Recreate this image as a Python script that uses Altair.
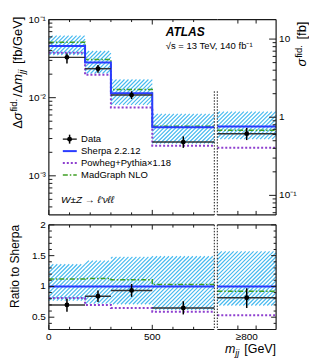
import math
import altair as alt
import pandas as pd

# ---------------- data ----------------
bin_lo = [0, 175, 300, 500]
bin_hi = [175, 300, 500, 800]

# upper panel, d sigma / d m_jj  [fb/GeV]
data_val = [0.0328, 0.0235, 0.0108, 0.00270]
data_dn = [0.0274, 0.0208, 0.0096, 0.00228]
data_up = [0.0368, 0.0262, 0.0121, 0.00320]
sherpa_val = [0.0457, 0.0283, 0.0114, 0.00417]
sherpa_band_dn = [0.0352, 0.0204, 0.0081, 0.00259]
sherpa_band_up = [0.0622, 0.0396, 0.0171, 0.00621]
powheg_val = [0.0377, 0.0196, 0.0075, 0.00243]
madgraph_val = [0.0514, 0.0309, 0.0127, 0.00430]

# overflow bin (m_jj >= 800 GeV), sigma [fb] on the right axis
ovf_lo = [0.0]
ovf_hi = [1.0]
ovf_data_val = [0.616]
ovf_data_dn = [0.51]
ovf_data_up = [0.73]
ovf_sherpa_val = [0.76]
ovf_band_dn = [0.524]
ovf_band_up = [1.18]
ovf_powheg_val = [0.408]
ovf_madgraph_val = [0.68]

# ratio panel
ratio_data = [0.70, 0.84, 0.935, 0.65]
ratio_data_dn = [0.59, 0.745, 0.83, 0.545]
ratio_data_up = [0.80, 0.935, 1.04, 0.76]
ratio_band_dn = [0.77, 0.72, 0.71, 0.62]
ratio_band_up = [1.36, 1.42, 1.48, 1.49]
ratio_sherpa = [1.0, 1.0, 1.0, 1.0]
ratio_powheg = [0.81, 0.70, 0.65, 0.59]
ratio_madgraph = [1.12, 1.13, 1.11, 1.03]
ovf_ratio_data = [0.815]
ovf_ratio_dn = [0.65]
ovf_ratio_up = [0.97]
ovf_ratio_band_dn = [0.69]
ovf_ratio_band_up = [1.57]
ovf_ratio_sherpa = [1.0]
ovf_ratio_powheg = [0.53]
ovf_ratio_madgraph = [0.92]

# ticks and tick labels
x_major = [0, 500]
x_major_labels = ["0", "500"]
x_minor = [100, 200, 300, 400, 600, 700]
ovf_x_ticks = [0.35, 0.66]
ovf_x_label_pos = [0.5]
ovf_x_labels = ["≥800"]
top_major = [1e-3, 1e-2, 1e-1]
top_major_labels = ["10⁻³", "10⁻²", "10⁻¹"]
top_minor = [k * 10.0 ** e for e in (-4, -3, -2) for k in range(2, 10) if k * 10.0 ** e > 10 ** -3.5]
right_major = [0.1, 1.0, 10.0]
right_major_labels = ["10⁻¹", "1", "10"]
right_minor = [k * 10.0 ** e for e in (-2, -1, 0, 1) for k in range(2, 10)
               if 10 ** -1.25 < k * 10.0 ** e < 10 ** 1.25]
ratio_major = [0.5, 1.0, 1.5, 2.0]
ratio_major_labels = ["0.5", "1", "1.5", "2"]
ratio_minor = [0.3, 0.4, 0.6, 0.7, 0.8, 0.9, 1.1, 1.2, 1.3, 1.4, 1.6, 1.7, 1.8, 1.9]

# ---------------- style ----------------
FONT = "Liberation Sans"
BLUE = "#2a3cff"
PURPLE = "#8e3fcf"
GREEN = "#3f9f24"
HATCH = "#45b9ef"
HATCH_WIDTH = 1.15
HATCH_PERIOD = 4.0
INK = "#1a1a1a"
DATA_LINE = "#333333"
LABEL_SIZE = 10

WL, WR, HT, HB = 166, 59, 196, 105
GAP = 3
DOT_TOP = 72  # where the dotted break line starts in the upper panel
TOP_LOG = (-3.5, -1.0)
RIGHT_LOG = (-1.25, 1.25)
R_DOM = (0.3, 2.0)
tspan = TOP_LOG[1] - TOP_LOG[0]
rspan = RIGHT_LOG[1] - RIGHT_LOG[0]
bspan = R_DOM[1] - R_DOM[0]

xL = alt.Scale(domain=[0, 800], nice=False, zero=False)
xR = alt.Scale(domain=[0, 1], nice=False, zero=False)
yT = alt.Scale(type="log", domain=[10 ** TOP_LOG[0], 10 ** TOP_LOG[1]], nice=False)
yTR = alt.Scale(type="log", domain=[10 ** RIGHT_LOG[0], 10 ** RIGHT_LOG[1]], nice=False)
yB = alt.Scale(domain=list(R_DOM), nice=False, zero=False)

ONE = pd.DataFrame({"k": [0]})

# approximate advance widths (em) of Liberation Sans, for composing sub/superscripts
W_EM = {"Δ": 0.668, "σ": 0.58, "f": 0.278, "i": 0.222, "d": 0.556, ".": 0.278, "/": 0.278,
        "m": 0.833, "j": 0.222, "[": 0.278, "]": 0.278, "b": 0.556, "G": 0.778, "e": 0.556,
        "V": 0.667}


def tw(s, size):
    return sum(W_EM.get(c, 0.556) for c in s) * size


def ex(field, scale):
    return alt.X(f"{field}:Q", scale=scale, axis=None)


def ey(field, scale):
    return alt.Y(f"{field}:Q", scale=scale, axis=None)


# --- hatch of the uncertainty band: 45 degree lines clipped to each band box ---
def to_px_log(v, top, span, H):
    return (top - math.log10(v)) * H / span


def hatch_layer(lo, hi, dn, up, xs, ys, px_x, px_y, data_x, data_y, xoff):
    rows = []
    for a, b, d, u in zip(lo, hi, dn, up):
        x0, x1 = px_x(a), px_x(b)
        y0, y1 = px_y(u), px_y(d)
        w, h = x1 - x0, y1 - y0
        c = (-(x0 + xoff + y0)) % HATCH_PERIOD
        while c < w + h:
            xa, xb = max(0.0, c - h), min(w, c)
            if xb > xa:
                rows.append({"x": data_x(x0 + xa), "y": data_y(y0 + c - xa),
                             "x2": data_x(x0 + xb), "y2": data_y(y0 + c - xb)})
            c += HATCH_PERIOD
    return alt.Chart(pd.DataFrame(rows)).mark_rule(color=HATCH, strokeWidth=HATCH_WIDTH).encode(
        x=ex("x", xs), y=ey("y", ys), x2=alt.X2("x2"), y2=alt.Y2("y2"))


def rule(enc, dotted=False):
    if dotted:
        return alt.Chart(ONE).mark_rule(color=INK, strokeWidth=1, strokeDash=[1.5, 1.5]).encode(**enc)
    return alt.Chart(ONE).mark_rule(color=INK, strokeWidth=1.2).encode(**enc)


def ylabels(vals, labels, scale, x, align):
    df = pd.DataFrame({"v": vals, "t": labels})
    return alt.Chart(df).mark_text(font=FONT, fontSize=LABEL_SIZE, color="#000000", align=align,
                                   baseline="middle").encode(y=ey("v", scale), x=alt.value(x), text="t:N")


def xlabels(vals, labels, scale, y):
    df = pd.DataFrame({"v": vals, "t": labels})
    return alt.Chart(df).mark_text(font=FONT, fontSize=LABEL_SIZE, color="#000000", align="center",
                                   baseline="top").encode(x=ex("v", scale), y=alt.value(y), text="t:N")


def part_text(text, size, italic, x, y, align, angle=0):
    kw = dict(text=text, font=FONT, fontSize=size, color="#000000", align=align, baseline="alphabetic")
    if italic:
        kw["fontStyle"] = "italic"
    if angle:
        kw["angle"] = angle
    return alt.Chart(ONE).mark_text(**kw).encode(x=alt.value(x), y=alt.value(y))


def rot_title(parts, x, y_top):
    """Rotated (reading upwards) title whose end sits at y_top. parts: (text, size, italic, rise, gap_after)"""
    out, cursor = [], y_top
    for text, size, italic, rise, gap in reversed(parts):
        cursor += gap
        out.append(part_text(text, size, italic, x - rise, cursor, "right", angle=270))
        cursor += tw(text, size)
    return out


def h_title(parts, x_right, y):
    total = sum(tw(t, s) + g for t, s, _, _, g in parts)
    out, cursor = [], x_right - total
    for text, size, italic, rise, gap in parts:
        out.append(part_text(text, size, italic, cursor, y - rise, "left"))
        cursor += tw(text, size) + gap
    return out


def yticks(vals, scale, side, W, L):
    df = pd.DataFrame({"v": vals})
    if side == "left":
        enc = dict(x=alt.value(0), x2=alt.value(L))
    else:
        enc = dict(x=alt.value(W), x2=alt.value(W - L))
    return alt.Chart(df).mark_rule(color=INK, strokeWidth=1).encode(y=ey("v", scale), **enc)


def xticks(vals, scale, H, L):
    df = pd.DataFrame({"v": vals})
    return [
        alt.Chart(df).mark_rule(color=INK, strokeWidth=1).encode(
            x=ex("v", scale), y=alt.value(H), y2=alt.value(H - L)),
        alt.Chart(df).mark_rule(color=INK, strokeWidth=1).encode(
            x=ex("v", scale), y=alt.value(0), y2=alt.value(L)),
    ]


def step_layer(vals, xs, ys, color, width, dash=None):
    df = pd.DataFrame({"x": bin_lo + [bin_hi[-1]], "y": list(vals) + [vals[-1]]})
    kw = dict(interpolate="step-after", color=color, strokeWidth=width)
    if dash:
        kw["strokeDash"] = dash
    return alt.Chart(df).mark_line(**kw).encode(x=ex("x", xs), y=ey("y", ys))


def hline_layer(df, field, xs, ys, color, width, dash=None):
    kw = dict(color=color, strokeWidth=width)
    if dash:
        kw["strokeDash"] = dash
    return alt.Chart(df).mark_rule(**kw).encode(x=ex("lo", xs), x2=alt.X2("hi"), y=ey(field, ys))


def data_layers(df, xs, ys):
    return [
        alt.Chart(df).mark_rule(color=DATA_LINE, strokeWidth=1.5).encode(
            x=ex("lo", xs), x2=alt.X2("hi"), y=ey("val", ys)),
        alt.Chart(df).mark_rule(color="#000000", strokeWidth=1.5).encode(
            x=ex("c", xs), y=ey("dn", ys), y2=alt.Y2("up")),
        alt.Chart(df).mark_circle(color="#000000", size=24, opacity=1).encode(
            x=ex("c", xs), y=ey("val", ys)),
    ]


# pixel <-> data helpers of each panel (follow the scales above)
pxL = lambda v: v * WL / 800
datL = lambda p: p * 800 / WL
pxR = lambda v: v * WR
datR = lambda p: p / WR
pyT = lambda v: to_px_log(v, TOP_LOG[1], tspan, HT)
dyT = lambda p: 10 ** (TOP_LOG[1] - p * tspan / HT)
pyTR = lambda v: to_px_log(v, RIGHT_LOG[1], rspan, HT)
dyTR = lambda p: 10 ** (RIGHT_LOG[1] - p * rspan / HT)
pyB = lambda v: (R_DOM[1] - v) * HB / bspan
dyB = lambda p: R_DOM[1] - p * bspan / HB

# ---------------- upper left ----------------
top_df = pd.DataFrame({
    "lo": bin_lo, "hi": bin_hi,
    "c": [(a + b) / 2 for a, b in zip(bin_lo, bin_hi)],
    "val": data_val, "dn": data_dn, "up": data_up,
})
tl = [hatch_layer(bin_lo, bin_hi, sherpa_band_dn, sherpa_band_up, xL, yT, pxL, pyT, datL, dyT, 0)]
tl.append(step_layer(madgraph_val, xL, yT, GREEN, 1.5, [5, 2, 1.5, 2]))
tl.append(step_layer(powheg_val, xL, yT, PURPLE, 2, [2, 2]))
tl.append(step_layer(sherpa_val, xL, yT, BLUE, 2))
tl += data_layers(top_df, xL, yT)
tl.append(yticks(top_major, yT, "left", WL, 7))
tl.append(yticks(top_minor, yT, "left", WL, 3.5))
tl += xticks(x_major, xL, HT, 5)
tl += xticks(x_minor, xL, HT, 2.5)
tl.append(rule(dict(x=alt.value(0), y=alt.value(0), y2=alt.value(HT))))
tl.append(rule(dict(y=alt.value(0), x=alt.value(0), x2=alt.value(WL + GAP))))
tl.append(rule(dict(y=alt.value(HT), x=alt.value(0), x2=alt.value(WL))))
tl.append(rule(dict(x=alt.value(WL), y=alt.value(DOT_TOP), y2=alt.value(HT)), dotted=True))
tl.append(ylabels(top_major, top_major_labels, yT, -3, "right"))
tl += rot_title([("Δ", 13, False, 0, 0), ("σ", 13, True, 0, 1), ("fid.", 9.5, False, 4.5, 2),
                 ("/Δ", 13, False, 0, 0), ("m", 13, True, 0, 0), ("jj", 9.5, True, -3, 2 + 3.6),
                 ("[fb/GeV]", 13, False, 0, 0)], -27, -3)
# annotations and legend
txt = dict(font=FONT, color="#000000", align="left")
tl.append(alt.Chart(ONE).mark_text(text="ATLAS", fontSize=12, fontStyle="italic", fontWeight="bold",
                                   baseline="alphabetic", **txt).encode(x=alt.value(117.3), y=alt.value(16.7)))
tl.append(alt.Chart(ONE).mark_text(text="√s = 13 TeV, 140 fb⁻¹", fontSize=9.5, baseline="alphabetic",
                                   **txt).encode(x=alt.value(117.3), y=alt.value(30)))
tl.append(alt.Chart(ONE).mark_text(text="W±Z → ℓ′νℓℓ", fontSize=10, fontStyle="italic", baseline="middle",
                                   **txt).encode(x=alt.value(12.3), y=alt.value(181)))
leg_rows = [("Data", 120), ("Sherpa 2.2.12", 132), ("Powheg+Pythia×1.18", 144), ("MadGraph NLO", 156)]
for label, yy in leg_rows:
    tl.append(alt.Chart(ONE).mark_text(text=label, fontSize=9.5, baseline="middle", **txt).encode(
        x=alt.value(32.3), y=alt.value(yy)))
tl.append(alt.Chart(ONE).mark_rule(color=DATA_LINE, strokeWidth=1.5).encode(
    x=alt.value(14), x2=alt.value(28), y=alt.value(120)))
tl.append(alt.Chart(ONE).mark_rule(color="#000000", strokeWidth=1.5).encode(
    x=alt.value(20.8), y=alt.value(115.5), y2=alt.value(124.5)))
tl.append(alt.Chart(ONE).mark_circle(color="#000000", size=24, opacity=1).encode(
    x=alt.value(20.8), y=alt.value(120)))
tl.append(alt.Chart(ONE).mark_rule(color=BLUE, strokeWidth=2).encode(
    x=alt.value(14), x2=alt.value(28), y=alt.value(132)))
tl.append(alt.Chart(ONE).mark_rule(color=PURPLE, strokeWidth=2, strokeDash=[2, 2]).encode(
    x=alt.value(14), x2=alt.value(28), y=alt.value(144)))
tl.append(alt.Chart(ONE).mark_rule(color=GREEN, strokeWidth=1.5, strokeDash=[5, 2, 1.5, 2]).encode(
    x=alt.value(14), x2=alt.value(28), y=alt.value(156)))
TL = alt.layer(*tl).properties(width=WL, height=HT)

# ---------------- upper right (overflow) ----------------
ovf_df = pd.DataFrame({
    "lo": ovf_lo, "hi": ovf_hi, "c": [(a + b) / 2 for a, b in zip(ovf_lo, ovf_hi)],
    "val": ovf_data_val, "dn": ovf_data_dn, "up": ovf_data_up,
    "sherpa": ovf_sherpa_val, "powheg": ovf_powheg_val, "madgraph": ovf_madgraph_val,
})
tr = [hatch_layer(ovf_lo, ovf_hi, ovf_band_dn, ovf_band_up, xR, yTR, pxR, pyTR, datR, dyTR, WL + GAP)]
tr.append(hline_layer(ovf_df, "madgraph", xR, yTR, GREEN, 1.5, [5, 2, 1.5, 2]))
tr.append(hline_layer(ovf_df, "powheg", xR, yTR, PURPLE, 2, [2, 2]))
tr.append(hline_layer(ovf_df, "sherpa", xR, yTR, BLUE, 2))
tr += data_layers(ovf_df, xR, yTR)
tr.append(yticks(right_major, yTR, "right", WR, 7))
tr.append(yticks(right_minor, yTR, "right", WR, 3.5))
tr += xticks(ovf_x_ticks, xR, HT, 4)
tr.append(rule(dict(x=alt.value(WR), y=alt.value(0), y2=alt.value(HT))))
tr.append(rule(dict(y=alt.value(0), x=alt.value(0), x2=alt.value(WR))))
tr.append(rule(dict(y=alt.value(HT), x=alt.value(0), x2=alt.value(WR))))
tr.append(rule(dict(x=alt.value(0), y=alt.value(DOT_TOP), y2=alt.value(HT)), dotted=True))
tr.append(ylabels(right_major, right_major_labels, yTR, WR + 3, "left"))
tr += rot_title([("σ", 13, True, 0, 1), ("fid.", 9.5, False, 4.5, 2 + 3.6), ("[fb]", 13, False, 0, 0)],
                WR + 30, 2)
TR = alt.layer(*tr).properties(width=WR, height=HT)

# ---------------- lower left (ratio) ----------------
rat_df = pd.DataFrame({
    "lo": bin_lo, "hi": bin_hi,
    "c": [(a + b) / 2 for a, b in zip(bin_lo, bin_hi)],
    "val": ratio_data, "dn": ratio_data_dn, "up": ratio_data_up,
})
bl = [hatch_layer(bin_lo, bin_hi, ratio_band_dn, ratio_band_up, xL, yB, pxL, pyB, datL, dyB, 0)]
bl.append(step_layer(ratio_madgraph, xL, yB, GREEN, 1.5, [5, 2, 1.5, 2]))
bl.append(step_layer(ratio_powheg, xL, yB, PURPLE, 2, [2, 2]))
bl.append(step_layer(ratio_sherpa, xL, yB, BLUE, 2))
bl += data_layers(rat_df, xL, yB)
bl.append(yticks(ratio_major, yB, "left", WL, 5.5))
bl.append(yticks(ratio_minor, yB, "left", WL, 3))
bl += xticks(x_major, xL, HB, 4.7)
bl += xticks(x_minor, xL, HB, 2.7)
bl.append(rule(dict(x=alt.value(0), y=alt.value(0), y2=alt.value(HB))))
bl.append(rule(dict(y=alt.value(0), x=alt.value(0), x2=alt.value(WL))))
bl.append(rule(dict(y=alt.value(HB), x=alt.value(0), x2=alt.value(WL))))
bl.append(rule(dict(x=alt.value(WL), y=alt.value(0), y2=alt.value(HB)), dotted=True))
bl.append(ylabels(ratio_major, ratio_major_labels, yB, -3, "right"))
bl.append(xlabels(x_major, x_major_labels, xL, HB + 3))
bl.append(part_text("Ratio to Sherpa", 12, False, -30.2, 0, "right", angle=270))
BL = alt.layer(*bl).properties(width=WL, height=HB)

# ---------------- lower right (ratio overflow) ----------------
ovr_df = pd.DataFrame({
    "lo": ovf_lo, "hi": ovf_hi, "c": [(a + b) / 2 for a, b in zip(ovf_lo, ovf_hi)],
    "val": ovf_ratio_data, "dn": ovf_ratio_dn, "up": ovf_ratio_up,
    "sherpa": ovf_ratio_sherpa, "powheg": ovf_ratio_powheg, "madgraph": ovf_ratio_madgraph,
})
br = [hatch_layer(ovf_lo, ovf_hi, ovf_ratio_band_dn, ovf_ratio_band_up, xR, yB, pxR, pyB, datR, dyB, WL + GAP)]
br.append(hline_layer(ovr_df, "madgraph", xR, yB, GREEN, 1.5, [5, 2, 1.5, 2]))
br.append(hline_layer(ovr_df, "powheg", xR, yB, PURPLE, 2, [2, 2]))
br.append(hline_layer(ovr_df, "sherpa", xR, yB, BLUE, 2))
br += data_layers(ovr_df, xR, yB)
br.append(yticks(ratio_major, yB, "right", WR, 5))
br.append(yticks(ratio_minor, yB, "right", WR, 2.5))
br += xticks(ovf_x_ticks, xR, HB, 4)
br.append(rule(dict(x=alt.value(WR), y=alt.value(0), y2=alt.value(HB))))
br.append(rule(dict(y=alt.value(0), x=alt.value(0), x2=alt.value(WR))))
br.append(rule(dict(y=alt.value(HB), x=alt.value(0), x2=alt.value(WR))))
br.append(rule(dict(x=alt.value(0), y=alt.value(0), y2=alt.value(HB)), dotted=True))
br.append(xlabels(ovf_x_label_pos, ovf_x_labels, xR, HB + 3))
br += h_title([("m", 12.5, True, 0, 0), ("jj", 9, True, -3, 1.5 + 3.5), ("[GeV]", 12.5, False, 0, 0)],
              WR, HB + 24)
BR = alt.layer(*br).properties(width=WR, height=HB)

chart = alt.concat(TL, TR, BL, BR, columns=2, spacing={"row": 10, "column": GAP}, bounds="flush").properties(
    padding={"left": 0, "top": 6, "right": 0, "bottom": 0}, background="#ffffff"
).configure_view(stroke=None)

chart.save("out.html", embed_options={"renderer": "svg", "actions": False})
